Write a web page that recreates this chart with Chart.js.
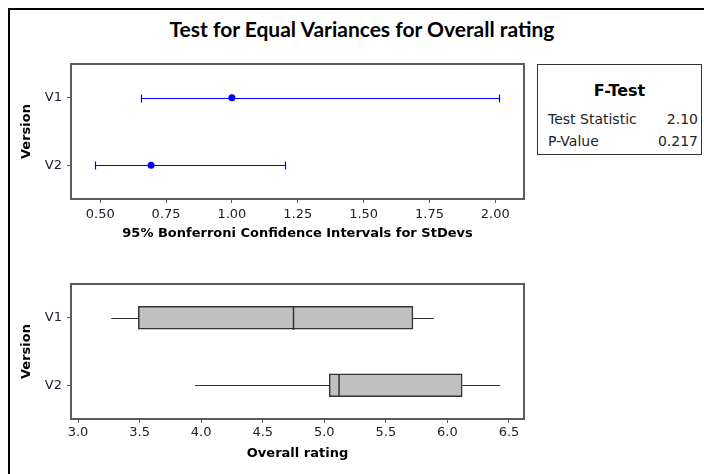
<!DOCTYPE html>
<html>
<head>
<meta charset="utf-8">
<title>Test for Equal Variances for Overall rating</title>
<script src="https://cdn.jsdelivr.net/npm/chart.js@4.4.1/dist/chart.umd.min.js"></script>
<style>
  html, body { margin: 0; padding: 0; background: #fff; }
  body { width: 704px; height: 474px; position: relative; overflow: hidden; font-family: 'DejaVu Sans', sans-serif; }
  .frame { position: absolute; left: 8px; top: 8px; width: 760px; height: 520px; border: 2px solid #000; box-sizing: border-box; }
  .title { position: absolute; left: 362px; top: 16px; transform: translateX(-50%); font: bold 21px Lato, sans-serif; line-height: 26px; white-space: nowrap; color: #000; }
  canvas { position: absolute; left: 0; }
  #sdChart { top: 0; }
  #boxChart { top: 220px; }
  .ftest { position: absolute; left: 537px; top: 64px; width: 165px; height: 91px; border: 1px solid #333; box-sizing: border-box; background: #fff; color: #222; }
  .ftest .head { position: absolute; left: 0; right: 0; top: 16px; text-align: center; font: bold 16px 'DejaVu Sans'; color: #000; }
  .ftest .row { position: absolute; left: 10px; right: 3px; font: 14px 'DejaVu Sans'; line-height: 16px; }
  .ftest .row span { float: right; }
</style>
</head>
<body>
<div class="frame"></div>
<div class="title">Test for Equal Variances for Overall rating</div>
<canvas id="sdChart" width="540" height="262"></canvas>
<canvas id="boxChart" width="540" height="254"></canvas>
<div class="ftest">
  <div class="head">F-Test</div>
  <div class="row" style="top:46px">Test Statistic<span id="fStat"></span></div>
  <div class="row" style="top:68px">P-Value<span id="pVal"></span></div>
</div>
<script>
// ── Data ──
const versions = ['V1', 'V2'];

// Bonferroni intervals for the standard deviations
const sdLower = [0.655, 0.482];
const sdEstimate = [1.0, 0.693];
const sdUpper = [2.014, 1.2];
const sdTicks = [0.5, 0.75, 1.0, 1.25, 1.5, 1.75, 2.0];

// Overall rating summary per version
const ratingMin = [3.27, 3.95];
const ratingQ1 = [3.49, 5.04];
const ratingMedian = [4.75, 5.12];
const ratingQ3 = [5.72, 6.12];
const ratingMax = [5.89, 6.43];
const ratingTicks = [3.0, 3.5, 4.0, 4.5, 5.0, 5.5, 6.0, 6.5];

const fStatistic = 2.10;
const pValue = 0.217;

document.getElementById('fStat').textContent = fStatistic.toFixed(2);
document.getElementById('pVal').textContent = pValue.toFixed(3);

Chart.defaults.font.family = "'DejaVu Sans', sans-serif";
Chart.defaults.color = '#202030';

const axisGray = '#5c5c5c';
const ciBlue = '#0000ff';

// ── Shared bits ──
const plotFrame = {
  id: 'plotFrame',
  afterDraw(chart) {
    const { ctx, chartArea: a } = chart;
    ctx.save();
    ctx.strokeStyle = axisGray;
    ctx.lineWidth = 2;
    ctx.strokeRect(a.left, a.top, a.right - a.left, a.bottom - a.top);
    ctx.restore();
  }
};

function xAxis(min, max, tickList, digits, tickPad, titleText, titlePad, height) {
  return {
    type: 'linear',
    min: min,
    max: max,
    afterBuildTicks: s => { s.ticks = tickList.map(v => ({ value: v })); },
    afterFit: s => { s.height = height; },
    grid: { drawOnChartArea: false, drawTicks: true, tickLength: 4, color: axisGray },
    border: { display: false },
    ticks: { font: { size: 13 }, padding: tickPad, maxRotation: 0, callback: v => Number(v).toFixed(digits) },
    title: { display: true, text: titleText, color: '#000', font: { size: 13, weight: 'bold' }, padding: { top: 0, bottom: titlePad } }
  };
}

function yAxis() {
  return {
    type: 'category',
    labels: versions,
    offset: true,
    afterFit: s => { s.width = 71; },
    grid: { drawOnChartArea: false, drawTicks: true, tickLength: 4, color: axisGray, offset: false },
    border: { display: false },
    ticks: { font: { size: 13 }, padding: 5 },
    title: { display: true, text: 'Version', color: '#000', font: { size: 13, weight: 'bold' }, padding: { top: 19, bottom: 0 } }
  };
}

// ── Interval plot ──
const intervalLines = {
  id: 'intervalLines',
  beforeDatasetsDraw(chart) {
    const { ctx, scales: { x, y } } = chart;
    ctx.save();
    versions.forEach((v, i) => {
      const py = Math.round(y.getPixelForValue(i)) + 0.5;
      const x1 = Math.round(x.getPixelForValue(sdLower[i])) + 0.5;
      const x2 = Math.round(x.getPixelForValue(sdUpper[i])) + 0.5;
      ctx.strokeStyle = ciBlue;
      ctx.lineWidth = 1.2;
      ctx.beginPath();
      ctx.moveTo(x1, py); ctx.lineTo(x2, py);
      ctx.moveTo(x1, py - 4); ctx.lineTo(x1, py + 4);
      ctx.moveTo(x2, py - 4); ctx.lineTo(x2, py + 4);
      ctx.stroke();
    });
    ctx.restore();
  }
};

new Chart(document.getElementById('sdChart'), {
  type: 'scatter',
  data: {
    datasets: [{
      data: versions.map((v, i) => ({ x: sdEstimate[i], y: v })),
      pointRadius: 3.5,
      pointBackgroundColor: ciBlue,
      pointBorderColor: ciBlue,
      pointBorderWidth: 0
    }]
  },
  options: {
    responsive: false,
    animation: false,
    layout: { padding: { top: 64, right: 16, left: 0, bottom: 0 } },
    plugins: { legend: { display: false }, tooltip: { enabled: false } },
    scales: {
      x: xAxis(0.389, 2.109, sdTicks, 2, 4, '95% Bonferroni Confidence Intervals for StDevs', 21, 63),
      y: yAxis()
    }
  },
  plugins: [intervalLines, plotFrame]
});

// ── Boxplot ──
const boxParts = {
  id: 'boxParts',
  afterDatasetsDraw(chart) {
    const { ctx, scales: { x, y } } = chart;
    ctx.save();
    ctx.strokeStyle = '#333';
    versions.forEach((v, i) => {
      const py = Math.round(y.getPixelForValue(i)) + 0.5;
      ctx.lineWidth = 1;
      ctx.beginPath();
      ctx.moveTo(x.getPixelForValue(ratingMin[i]), py);
      ctx.lineTo(x.getPixelForValue(ratingQ1[i]), py);
      ctx.moveTo(x.getPixelForValue(ratingQ3[i]), py);
      ctx.lineTo(x.getPixelForValue(ratingMax[i]), py);
      ctx.stroke();
      const mx = x.getPixelForValue(ratingMedian[i]);
      ctx.lineWidth = 1.5;
      ctx.beginPath();
      ctx.moveTo(mx, py - 11.5);
      ctx.lineTo(mx, py + 11.5);
      ctx.stroke();
    });
    ctx.restore();
  }
};

new Chart(document.getElementById('boxChart'), {
  type: 'bar',
  data: {
    labels: versions,
    datasets: [{
      data: versions.map((v, i) => [ratingQ1[i], ratingQ3[i]]),
      backgroundColor: '#c0c0c0',
      borderColor: '#333',
      borderWidth: 1.5,
      borderSkipped: false,
      barThickness: 23
    }]
  },
  options: {
    indexAxis: 'y',
    responsive: false,
    animation: false,
    layout: { padding: { top: 64, right: 16, left: 0, bottom: 0 } },
    plugins: { legend: { display: false }, tooltip: { enabled: false } },
    scales: {
      x: xAxis(2.943, 6.622, ratingTicks, 1, 2, 'Overall rating', 13, 55),
      y: yAxis()
    }
  },
  plugins: [boxParts, plotFrame]
});
</script>
</body>
</html>
